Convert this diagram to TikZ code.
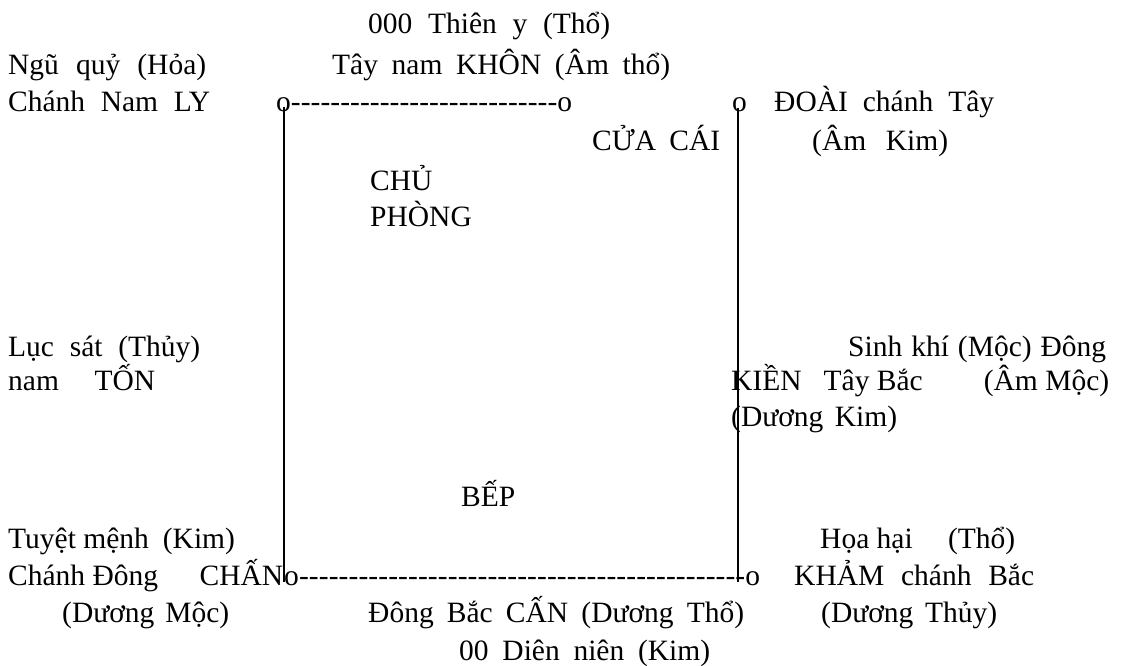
\documentclass[tikz,border=0pt]{standalone}
\usepackage{fontspec}
\setmainfont{Liberation Serif}
\newcommand{\fitline}[2]{\makebox[#1][s]{#2}}
\newcommand{\dashrow}[1]{\hbox to #1{o\xleaders\hbox{-}\hfill o}}

\begin{document}
\begin{tikzpicture}[x=1pt, y=-1pt,
  lbl/.style={inner sep=0pt, anchor=base west, font=\fontsize{29.5}{35}\selectfont},
  wall/.style={line width=1.5pt}]
  \useasboundingbox (0,0) rectangle (1121,666);

  \coordinate (LT) at (284,107);
  \coordinate (LB) at (284,582);
  \coordinate (RT) at (738,108);
  \coordinate (RB) at (738,582);

  \node [lbl] (thieny) at (368,34) {\fitline{242pt}{000 Thiên y (Thổ)}};
  \node [lbl] (nguquy) at (8,75) {\fitline{198pt}{Ngũ quỷ (Hỏa)}};
  \node [lbl] (khon) at (332,75) {\fitline{338pt}{Tây nam KHÔN (Âm thổ)}};
  \node [lbl] (ly) at (8,112) {\fitline{202pt}{Chánh Nam LY}};
  \node [lbl] (topdash) at (276,112) {\dashrow{296pt}};
  \node [lbl] (doaio) at (732,112) {o};
  \node [lbl] (doai) at (774,112) {\fitline{220pt}{ĐOÀI chánh Tây}};
  \node [lbl] (cuacai) at (592,150) {\fitline{128pt}{CỬA CÁI}};
  \node [lbl] (amkim) at (812,150) {\fitline{136pt}{(Âm Kim)}};
  \node [lbl] (chu) at (370,190) {CHỦ};
  \node [lbl] (phong) at (370,226) {PHÒNG};

  \node [lbl] (lucsat) at (8,356) {\fitline{192pt}{Lục sát (Thủy)}};
  \node [lbl] (ton) at (8,390) {\fitline{147pt}{nam TỐN}};
  \node [lbl] (sinhkhi) at (848,356) {\fitline{258pt}{Sinh khí (Mộc) Đông}};
  \node [lbl] (kien) at (731,390) {\fitline{378pt}{KIỀN\hspace{22pt}Tây Bắc\hfill(Âm Mộc)}};
  \node [lbl] (duongkim) at (731,426) {\fitline{166pt}{(Dương Kim)}};
  \node [lbl] (bep) at (461,506) {BẾP};

  \node [lbl] (tuyet) at (8,548) {Tuyệt mệnh\hspace{14pt}(Kim)};
  \node [lbl] (hoahai) at (820,548) {\fitline{195pt}{Họa hại\hfill(Thổ)}};
  \node [lbl] (chan) at (8,585) {\fitline{275pt}{Chánh Đông\hfill CHẤN}};
  \node [lbl] (botdash) at (284,585) {\dashrow{476pt}};
  \node [lbl] (kham) at (794,585) {\fitline{240pt}{KHẢM chánh Bắc}};
  \node [lbl] (duongmoc) at (62,622) {\fitline{167pt}{(Dương Mộc)}};
  \node [lbl] (can) at (368,622) {\fitline{376pt}{Đông Bắc CẤN (Dương Thổ)}};
  \node [lbl] (duongthuy) at (821,622) {\fitline{176pt}{(Dương Thủy)}};
  \node [lbl] (dien) at (459,660) {\fitline{251pt}{00 Diên niên (Kim)}};

  \draw [wall] (LT) -- (LB);
  \draw [wall] (RT) -- (RB);
\end{tikzpicture}
\end{document}
